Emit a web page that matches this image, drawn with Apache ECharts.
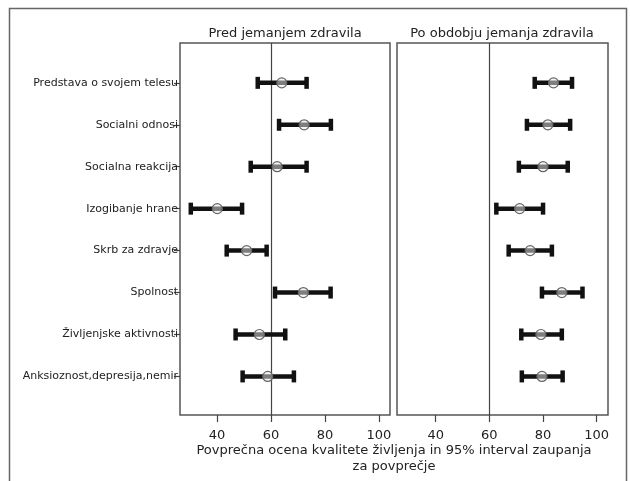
<!DOCTYPE html>
<html>
<head>
<meta charset="utf-8">
<script src="https://cdn.jsdelivr.net/npm/echarts@6/dist/echarts.min.js"></script>
<style>
  html, body { margin: 0; padding: 0; background: #fff; }
  #chart { width: 630px; height: 481px; }
</style>
</head>
<body>
<div id="chart"></div>
<script>
// kategorije (od zgoraj navzdol)
var categories = [
    'Predstava o svojem telesu',
    'Socialni odnosi',
    'Socialna reakcija',
    'Izogibanje hrane',
    'Skrb za zdravje',
    'Spolnost',
    'Življenjske aktivnosti',
    'Anksioznost,depresija,nemir'
];

// pred jemanjem zdravila: povprečje in 95% interval
var beforeMean = [64.0, 72.3, 62.3, 40.1, 51.0, 72.0, 55.7, 58.8];
var beforeLow  = [55.1, 63.0, 52.5, 30.3, 43.6, 61.5, 46.9, 49.5];
var beforeHigh = [73.2, 82.2, 73.2, 49.3, 58.4, 82.1, 65.3, 68.5];

// po obdobju jemanja zdravila
var afterMean = [83.9, 81.8, 80.0, 71.3, 75.2, 87.0, 79.2, 79.6];
var afterLow  = [76.9, 74.0, 71.0, 62.6, 67.2, 79.6, 71.9, 72.1];
var afterHigh = [90.8, 90.1, 89.2, 80.0, 83.3, 94.7, 87.0, 87.3];

var xTicks = [40, 60, 80, 100];
var refValue = 60;

var panelTitles = ['Pred jemanjem zdravila', 'Po obdobju jemanja zdravila'];
var axisCaption = ['Povprečna ocena kvalitete življenja in 95% interval zaupanja', 'za povprečje'];

var FONT = 'DejaVu Sans';
var rowIdx = categories.map(function(c, i) { return i; });

function buildRows(low, mean, high) {
    return categories.map(function(c, i) {
        return [i, low[i], mean[i], high[i]];
    });
}

// interval zaupanja: debela črta, zaključka in krogec za povprečje
function renderInterval(params, api) {
    var y = api.value(0);
    var lo = api.coord([api.value(1), y]);
    var mid = api.coord([api.value(2), y]);
    var hi = api.coord([api.value(3), y]);
    var capH = 6;
    var barStyle = { stroke: '#111', lineWidth: 4.5 };
    return {
        type: 'group',
        children: [
            { type: 'line', shape: { x1: lo[0], y1: lo[1], x2: hi[0], y2: hi[1] }, style: barStyle },
            { type: 'line', shape: { x1: lo[0], y1: lo[1] - capH, x2: lo[0], y2: lo[1] + capH }, style: barStyle },
            { type: 'line', shape: { x1: hi[0], y1: hi[1] - capH, x2: hi[0], y2: hi[1] + capH }, style: barStyle },
            { type: 'circle', shape: { cx: mid[0], cy: mid[1], r: 5 },
              style: { fill: 'rgba(235,235,235,0.5)', stroke: '#666', lineWidth: 1.2 } }
        ]
    };
}

function makeX(idx, min, max) {
    return {
        type: 'value', gridIndex: idx, min: min, max: max, position: 'bottom',
        splitLine: { show: false },
        axisLine: { show: false, onZero: false },
        axisTick: { show: true, inside: false, length: 7, customValues: xTicks,
                    lineStyle: { color: '#444', width: 1.2 } },
        axisLabel: { customValues: xTicks, margin: 14, color: '#222', fontFamily: FONT, fontSize: 13 }
    };
}

function makeY(idx, showLabels) {
    return {
        type: 'value', gridIndex: idx, inverse: true, min: -0.95, max: 7.92, position: 'left',
        splitLine: { show: false },
        axisLine: { show: false, onZero: false },
        axisTick: { show: showLabels, length: 6, customValues: rowIdx,
                    lineStyle: { color: '#444', width: 1.2 } },
        axisLabel: {
            show: showLabels, customValues: rowIdx, margin: 2,
            color: '#222', fontFamily: FONT, fontSize: 11,
            formatter: function(v) { return categories[Math.round(v)] || ''; }
        }
    };
}

function makeSeries(idx, data) {
    return {
        type: 'custom', xAxisIndex: idx, yAxisIndex: idx,
        renderItem: renderInterval,
        encode: { x: [1, 2, 3], y: 0 },
        data: data,
        silent: true,
        z: 5,
        markLine: {
            silent: true, symbol: 'none', label: { show: false },
            lineStyle: { color: '#444', width: 1.2, type: 'solid' },
            data: [{ xAxis: refValue }],
            z: 2
        }
    };
}

var chart = echarts.init(document.getElementById('chart'));

var option = {
    animation: false,
    backgroundColor: '#fff',
    grid: [
        { left: 180, top: 43, width: 210, height: 372, show: true,
          borderColor: '#555', borderWidth: 1.5, backgroundColor: 'transparent' },
        { left: 397, top: 43, width: 211, height: 372, show: true,
          borderColor: '#555', borderWidth: 1.5, backgroundColor: 'transparent' }
    ],
    xAxis: [makeX(0, 26.3, 104.1), makeX(1, 25.6, 104.2)],
    yAxis: [makeY(0, true), makeY(1, false)],
    series: [
        makeSeries(0, buildRows(beforeLow, beforeMean, beforeHigh)),
        makeSeries(1, buildRows(afterLow, afterMean, afterHigh))
    ],
    graphic: [
        { type: 'rect', shape: { x: 9.5, y: 8.5, width: 617, height: 490 },
          style: { fill: 'none', stroke: '#666', lineWidth: 1.5 }, silent: true },
        { type: 'text', x: 285, y: 34,
          style: { text: panelTitles[0], font: '13px "DejaVu Sans"', fill: '#222',
                   textAlign: 'center', textVerticalAlign: 'middle' } },
        { type: 'text', x: 502, y: 34,
          style: { text: panelTitles[1], font: '13px "DejaVu Sans"', fill: '#222',
                   textAlign: 'center', textVerticalAlign: 'middle' } },
        { type: 'text', x: 394, y: 451,
          style: { text: axisCaption[0], font: '13px "DejaVu Sans"', fill: '#222',
                   textAlign: 'center', textVerticalAlign: 'middle' } },
        { type: 'text', x: 394, y: 467,
          style: { text: axisCaption[1], font: '13px "DejaVu Sans"', fill: '#222',
                   textAlign: 'center', textVerticalAlign: 'middle' } }
    ]
};

chart.setOption(option);
</script>
</body>
</html>
